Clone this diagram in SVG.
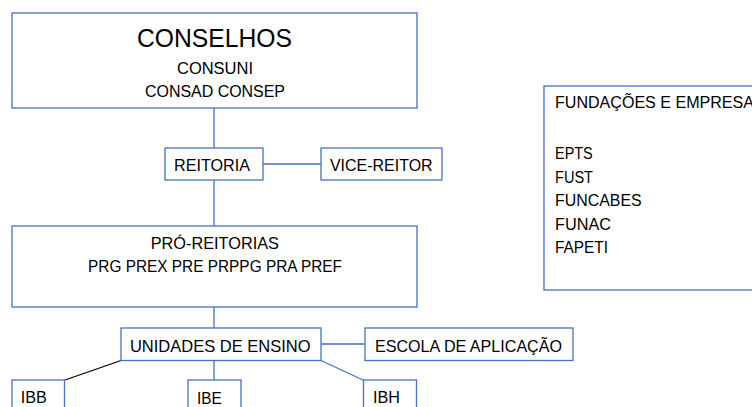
<svg xmlns="http://www.w3.org/2000/svg" width="752" height="407" viewBox="0 0 752 407">
<style>
.box{fill:#fff;stroke:#4472C4;stroke-width:1.3}
.ln{fill:none;stroke:#4472C4;stroke-width:1.3}
.blk{fill:none;stroke:#000;stroke-width:1.3}
text{font-family:"Liberation Sans",Arial,sans-serif;fill:#000;font-size:17px}
.c{text-anchor:middle}
.s{font-size:16px}
.big{font-size:25.5px}
</style>
<rect width="752" height="407" fill="#fff"/>
<g id="connectors">
<line class="ln" x1="214" y1="108" x2="214" y2="148"/>
<line class="ln" x1="263" y1="164" x2="321" y2="164"/>
<line class="ln" x1="214" y1="180" x2="214" y2="226"/>
<line class="ln" x1="214" y1="307" x2="214" y2="328"/>
<line class="ln" x1="321" y1="344" x2="365" y2="344"/>
<line class="blk" x1="121" y1="360.5" x2="65" y2="380"/>
<line class="ln" x1="214" y1="360.5" x2="214" y2="380"/>
<line class="ln" x1="321" y1="360.5" x2="363" y2="380"/>
</g>
<g id="conselhos">
<rect class="box" x="12" y="13" width="405" height="95"/>
<text class="c big" x="214.5" y="47" textLength="155" lengthAdjust="spacingAndGlyphs">CONSELHOS</text>
<text class="c s" x="215" y="74" textLength="76" lengthAdjust="spacingAndGlyphs">CONSUNI</text>
<text class="c s" x="215" y="97" textLength="140" lengthAdjust="spacingAndGlyphs">CONSAD CONSEP</text>
</g>
<g id="reitoria">
<rect class="box" x="165" y="148" width="98" height="32"/>
<text class="c" x="212" y="170.5" textLength="76" lengthAdjust="spacingAndGlyphs">REITORIA</text>
</g>
<g id="vice-reitor">
<rect class="box" x="321" y="148" width="121" height="32"/>
<text class="c" x="381.3" y="170.5" textLength="102.7" lengthAdjust="spacingAndGlyphs">VICE-REITOR</text>
</g>
<g id="pro-reitorias">
<rect class="box" x="12" y="226" width="405" height="81"/>
<text class="c" x="214.8" y="249" textLength="128.3" lengthAdjust="spacingAndGlyphs">PRÓ-REITORIAS</text>
<text class="c" x="215" y="271.7" textLength="254" lengthAdjust="spacingAndGlyphs">PRG PREX PRE PRPPG PRA PREF</text>
</g>
<g id="unidades">
<rect class="box" x="121" y="328" width="200" height="32.5"/>
<text class="c" x="220.3" y="351.5" textLength="180.7" lengthAdjust="spacingAndGlyphs">UNIDADES DE ENSINO</text>
</g>
<g id="escola">
<rect class="box" x="365" y="328" width="208" height="32.5"/>
<text class="c" x="468.5" y="351.5" textLength="187" lengthAdjust="spacingAndGlyphs">ESCOLA DE APLICAÇÃO</text>
</g>
<g id="ibb">
<rect class="box" x="12" y="380" width="52.5" height="40"/>
<text x="20.7" y="403" textLength="26" lengthAdjust="spacingAndGlyphs">IBB</text>
</g>
<g id="ibe">
<rect class="box" x="188" y="380" width="53" height="40"/>
<text x="197" y="403.5" textLength="24.7" lengthAdjust="spacingAndGlyphs">IBE</text>
</g>
<g id="ibh">
<rect class="box" x="363.5" y="380" width="53" height="40"/>
<text x="373" y="403" textLength="27" lengthAdjust="spacingAndGlyphs">IBH</text>
</g>
<g id="fundacoes">
<rect class="box" x="544" y="86" width="230" height="204"/>
<text class="s" x="555" y="108" textLength="199" lengthAdjust="spacingAndGlyphs">FUNDAÇÕES E EMPRESA</text>
<text class="s" x="555" y="159" textLength="37.7" lengthAdjust="spacingAndGlyphs">EPTS</text>
<text class="s" x="555" y="182.5" textLength="38" lengthAdjust="spacingAndGlyphs">FUST</text>
<text class="s" x="555" y="206" textLength="86.7" lengthAdjust="spacingAndGlyphs">FUNCABES</text>
<text class="s" x="555" y="229.5" textLength="56" lengthAdjust="spacingAndGlyphs">FUNAC</text>
<text class="s" x="555" y="253" textLength="53" lengthAdjust="spacingAndGlyphs">FAPETI</text>
</g>
</svg>
